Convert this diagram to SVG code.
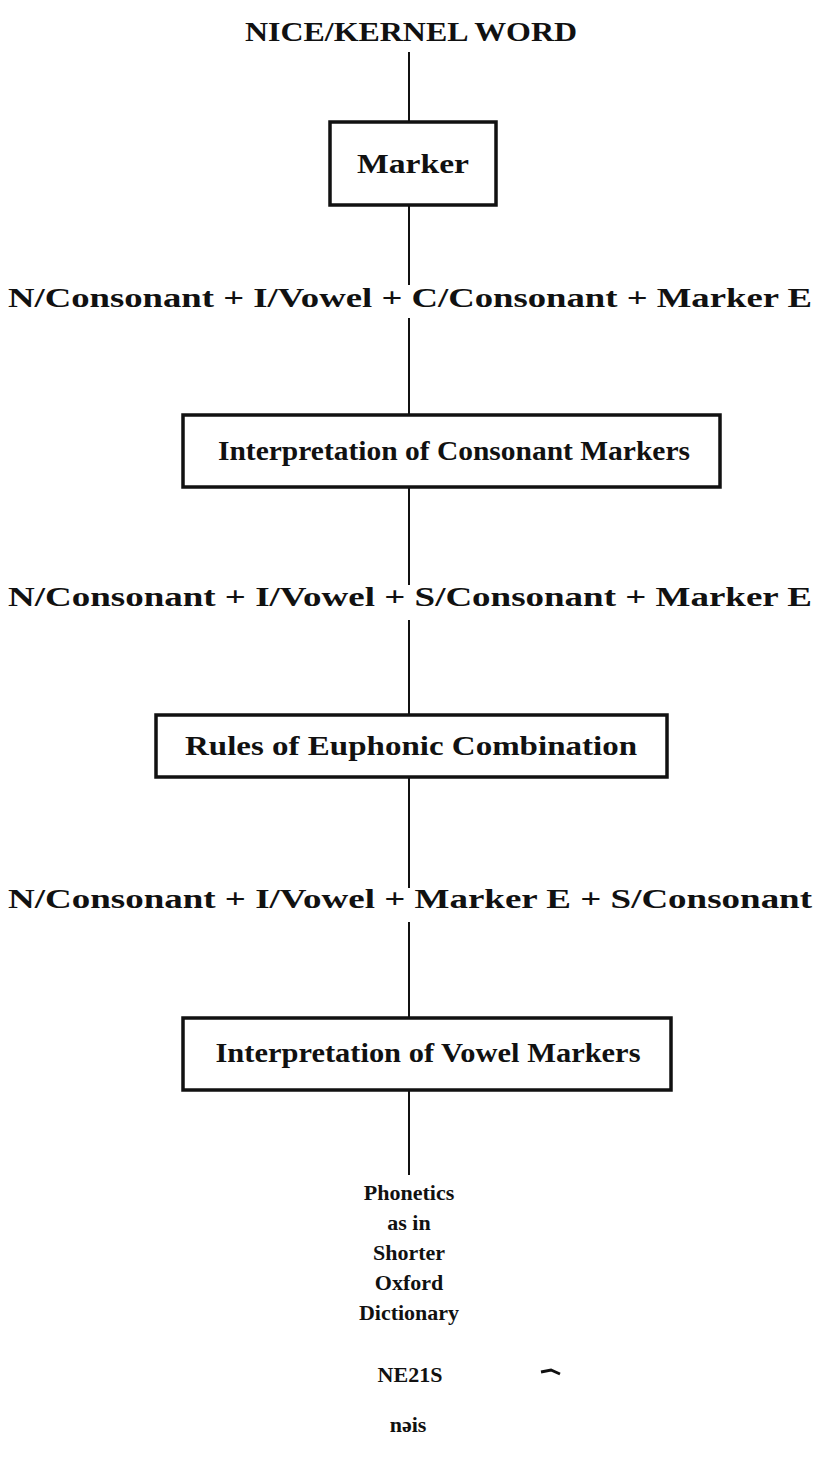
<svg xmlns="http://www.w3.org/2000/svg" width="819" height="1472" viewBox="0 0 819 1472">
<style>
text{font-family:"Liberation Serif","DejaVu Serif",serif;font-weight:bold;fill:#111;text-anchor:middle}
.t{font-size:27px}
.s{font-size:22px}
.box{fill:none;stroke:#111;stroke-width:3.5}
.c{stroke:#111;stroke-width:2;fill:none}
</style>
<rect width="819" height="1472" fill="#fff"/>
<g id="connectors">
<line class="c" x1="409" y1="52" x2="409" y2="122"/>
<line class="c" x1="409" y1="205" x2="409" y2="285"/>
<line class="c" x1="409" y1="318" x2="409" y2="415"/>
<line class="c" x1="409" y1="487" x2="409" y2="585"/>
<line class="c" x1="409" y1="620" x2="409" y2="715"/>
<line class="c" x1="409" y1="777" x2="409" y2="888"/>
<line class="c" x1="409" y1="922" x2="409" y2="1018"/>
<line class="c" x1="409" y1="1090" x2="409" y2="1175"/>
</g>
<g id="title"><text class="t" x="411" y="41" textLength="332" lengthAdjust="spacingAndGlyphs">NICE/KERNEL WORD</text></g>
<g id="marker">
<rect class="box" x="330" y="122" width="166" height="83"/>
<text class="t" x="413" y="173" textLength="112" lengthAdjust="spacingAndGlyphs">Marker</text>
</g>
<g id="form1"><text class="t" x="410" y="307" textLength="804" lengthAdjust="spacingAndGlyphs">N/Consonant + I/Vowel + C/Consonant + Marker E</text></g>
<g id="consonant-markers">
<rect class="box" x="183" y="415" width="537" height="72"/>
<text class="t" x="454" y="460" textLength="472" lengthAdjust="spacingAndGlyphs">Interpretation of Consonant Markers</text>
</g>
<g id="form2"><text class="t" x="410" y="606" textLength="804" lengthAdjust="spacingAndGlyphs">N/Consonant + I/Vowel + S/Consonant + Marker E</text></g>
<g id="euphonic">
<rect class="box" x="156" y="715" width="511" height="62"/>
<text class="t" x="411" y="755" textLength="452" lengthAdjust="spacingAndGlyphs">Rules of Euphonic Combination</text>
</g>
<g id="form3"><text class="t" x="410" y="908" textLength="804" lengthAdjust="spacingAndGlyphs">N/Consonant + I/Vowel + Marker E + S/Consonant</text></g>
<g id="vowel-markers">
<rect class="box" x="183" y="1018" width="488" height="72"/>
<text class="t" x="428" y="1062" textLength="425" lengthAdjust="spacingAndGlyphs">Interpretation of Vowel Markers</text>
</g>
<g id="phonetics">
<text class="s" x="409" y="1200">Phonetics</text>
<text class="s" x="409" y="1230">as in</text>
<text class="s" x="409" y="1260">Shorter</text>
<text class="s" x="409" y="1290">Oxford</text>
<text class="s" x="409" y="1320">Dictionary</text>
</g>
<g id="ne2is">
<text class="s" x="410" y="1382">NE21S</text>
<path d="M541 1372 L551 1370 L560 1374" stroke="#111" stroke-width="3" fill="none"/>
</g>
<g id="nais"><text class="s" x="408" y="1432">nəis</text></g>
</svg>
